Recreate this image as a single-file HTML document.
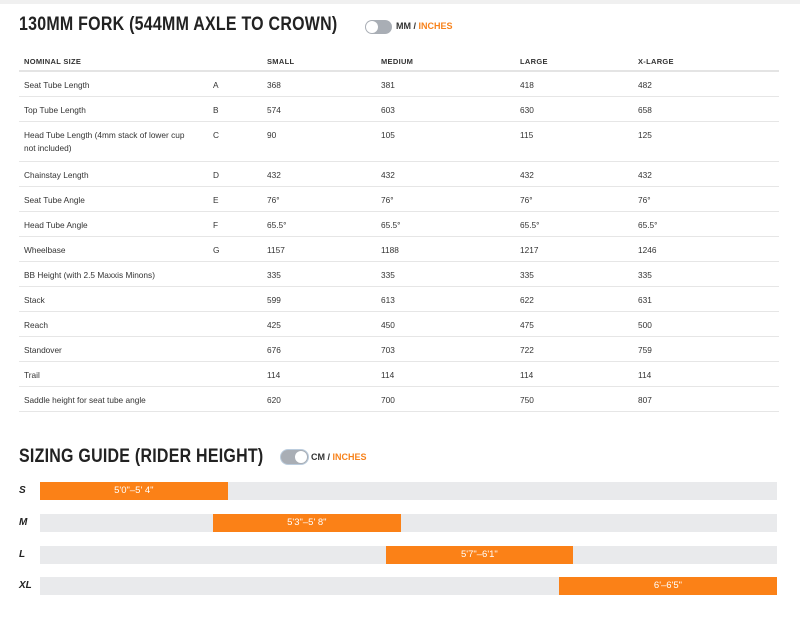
<!DOCTYPE html>
<html><head><meta charset="utf-8"><style>
*{margin:0;padding:0;box-sizing:border-box}
body{width:800px;height:619px;background:#fff;font-family:"Liberation Sans",sans-serif;color:#222;position:relative;overflow:hidden}
.topbar{position:absolute;left:0;top:0;width:800px;height:4px;background:#f0f0f0}
.title{position:absolute;left:19px;font-weight:bold;font-size:19px;letter-spacing:0.3px;color:#222;transform:scaleX(0.84);transform-origin:left;white-space:nowrap}
.toggle{position:absolute;width:27px;height:14px;border-radius:7px;background:#a9aeb5}
.toggle i{position:absolute;top:1px;width:12px;height:12px;border-radius:6px;background:#fff}
.unit{position:absolute;font-size:9px;font-weight:bold;color:#333}
.unit b{color:#f7821b}
.row{position:absolute;left:19px;width:760px;border-bottom:1px solid #e6e6e6}
.row span{position:absolute;font-size:8.3px;color:#333;line-height:13px}
.hdr span{font-weight:bold;font-size:7.5px;letter-spacing:0.3px}
.lbl{position:absolute;left:19px;font-size:10px;font-weight:bold;font-style:italic;color:#222}
.track{position:absolute;left:40px;width:737px;height:18px;background:#e9eaec}
.bar{position:absolute;height:18px;background:#fb8117;color:#fff;font-size:9.5px;text-align:center;line-height:18px}
</style></head><body>
<div class="topbar"></div>
<div class="title" style="top:14px">130MM FORK (544MM AXLE TO CROWN)</div>
<div class="toggle" style="left:365px;top:20px"><i style="left:1px"></i></div>
<div class="unit" style="left:396px;top:21px">MM / <b>INCHES</b></div>
<div id="table"></div>
<div class="title" style="top:446px">SIZING GUIDE (RIDER HEIGHT)</div>
<div class="toggle" style="left:281px;top:450px;box-shadow:0 0 0 1px #bcd"><i style="left:14px"></i></div>
<div class="unit" style="left:311px;top:452px">CM / <b>INCHES</b></div>
<div id="chart"></div>
<script>
const headers=["NOMINAL SIZE","","SMALL","MEDIUM","LARGE","X-LARGE"];
const rowNames=["Seat Tube Length","Top Tube Length","Head Tube Length (4mm stack of lower cup not included)","Chainstay Length","Seat Tube Angle","Head Tube Angle","Wheelbase","BB Height (with 2.5 Maxxis Minons)","Stack","Reach","Standover","Trail","Saddle height for seat tube angle"];
const rowLetters=["A","B","C","D","E","F","G","","","","","",""];
const smallVals=["368","574","90","432","76°","65.5°","1157","335","599","425","676","114","620"];
const mediumVals=["381","603","105","432","76°","65.5°","1188","335","613","450","703","114","700"];
const largeVals=["418","630","115","432","76°","65.5°","1217","335","622","475","722","114","750"];
const xlVals=["482","658","125","432","76°","65.5°","1246","335","631","500","759","114","807"];
const colX=[5,194,248,362,501,619];
const t=document.getElementById('table');
function mkRow(cells,top,h,hdr,i){
  const r=document.createElement('div');
  r.className='row'+(hdr?' hdr':'');
  r.style.top=top+'px';r.style.height=h+'px';
  if(hdr){r.style.borderBottom='2px solid #e4e4e4';}
  
  
  cells.forEach((c,j)=>{const s=document.createElement('span');s.textContent=c;s.style.left=colX[j]+'px';s.style.top='7px';if(j==0&&!hdr)s.style.width='172px';
  
  
  r.appendChild(s);});
  t.appendChild(r);
}
mkRow(headers,48,24,true);
let y=72;
rowNames.forEach((n,i)=>{const h=n.length>40?40:25;mkRow([n,rowLetters[i],smallVals[i],mediumVals[i],largeVals[i],xlVals[i]],y,h,false,i);y+=h;});

const sizes=["S","M","L","XL"];
const rangeLabels=["5'0\"–5' 4\"","5'3\"–5' 8\"","5'7\"–6'1\"","6'–6'5\""];
const rangeStart=[0,1,2,3];
const rangeEnd=[1.085,2.085,3.08,4.26];
const xMin=0,xMax=4.26,px0=40,px1=777;
const xs=v=>px0+(v-xMin)/(xMax-xMin)*(px1-px0);
const c=document.getElementById('chart');
sizes.forEach((s,i)=>{
  const top=482+i*31.8;
  const l=document.createElement('div');l.className='lbl';l.style.top=(top+3)+'px';l.textContent=s;
  
  
  c.appendChild(l);
  const tr=document.createElement('div');tr.className='track';tr.style.top=top+'px';
  
  
  c.appendChild(tr);
  const b=document.createElement('div');b.className='bar';b.style.top=top+'px';
  b.style.left=xs(rangeStart[i])+'px';b.style.width=(xs(rangeEnd[i])-xs(rangeStart[i]))+'px';
  b.textContent=rangeLabels[i];
  
  
  c.appendChild(b);
});
</script>
</body></html>
